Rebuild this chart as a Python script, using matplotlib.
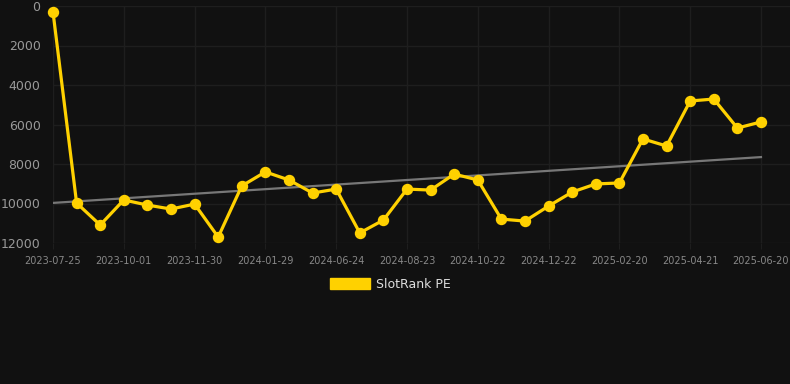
import numpy as np
import matplotlib
matplotlib.use('Agg')
import matplotlib.pyplot as plt
from matplotlib.patches import Patch

# x categories (one label every third point)
tick_labels = ['2023-07-25', '2023-10-01', '2023-11-30', '2024-01-29', '2024-06-24',
               '2024-08-23', '2024-10-22', '2024-12-22', '2025-02-20', '2025-04-21',
               '2025-06-20']

# SlotRank PE ranks
rank = [300, 9975, 11090, 9820, 10080, 10280, 10030, 11700, 9110, 8400,
        8810, 9470, 9270, 11490, 10840, 9270, 9320, 8510, 8810, 10790,
        10890, 10130, 9420, 9010, 8960, 6730, 7090, 4810, 4710, 6180, 5870]

# trend line end values
trend_values = [9970, 7650]

bg = '#111111'
grid_col = '#1e1e1e'
yellow = '#FFD100'

fig = plt.figure(figsize=(7.9, 3.84), dpi=100, facecolor=bg)
ax = fig.add_axes([53 / 790, 1 - 243 / 384, (790 - 53) / 790, (243 - 6) / 384])
ax.set_facecolor(bg)

x = np.arange(len(rank))
ax.plot([x[0], x[-1]], trend_values, color='#777777', lw=1.6, zorder=2)
ax.plot(x, rank, color=yellow, lw=2.3, marker='o', markersize=7.2,
        clip_on=False, zorder=3)

ax.set_xlim(0, 31.23)
ax.set_ylim(12000, 0)
ax.set_yticks(np.arange(0, 12001, 2000))
ax.set_xticks(x[::3])
ax.set_xticklabels(tick_labels)

ax.grid(True, color=grid_col, lw=1)
ax.set_axisbelow(True)
for s in ax.spines.values():
    s.set_visible(False)
ax.tick_params(axis='y', colors='#999999', labelsize=9, length=0, pad=9)
ax.tick_params(axis='x', colors='#888888', labelsize=7, length=4, color=grid_col, pad=5)

handle = Patch(facecolor=yellow, edgecolor=yellow)
leg = fig.legend([handle], ['SlotRank PE'], loc='center', bbox_to_anchor=(390 / 790, 1 - 284 / 384),
                 frameon=False, fontsize=9, handlelength=3.2, handleheight=1.0,
                 handletextpad=0.5)
for t in leg.get_texts():
    t.set_color('#dddddd')

fig.savefig('out.png', dpi=100, facecolor=bg)
